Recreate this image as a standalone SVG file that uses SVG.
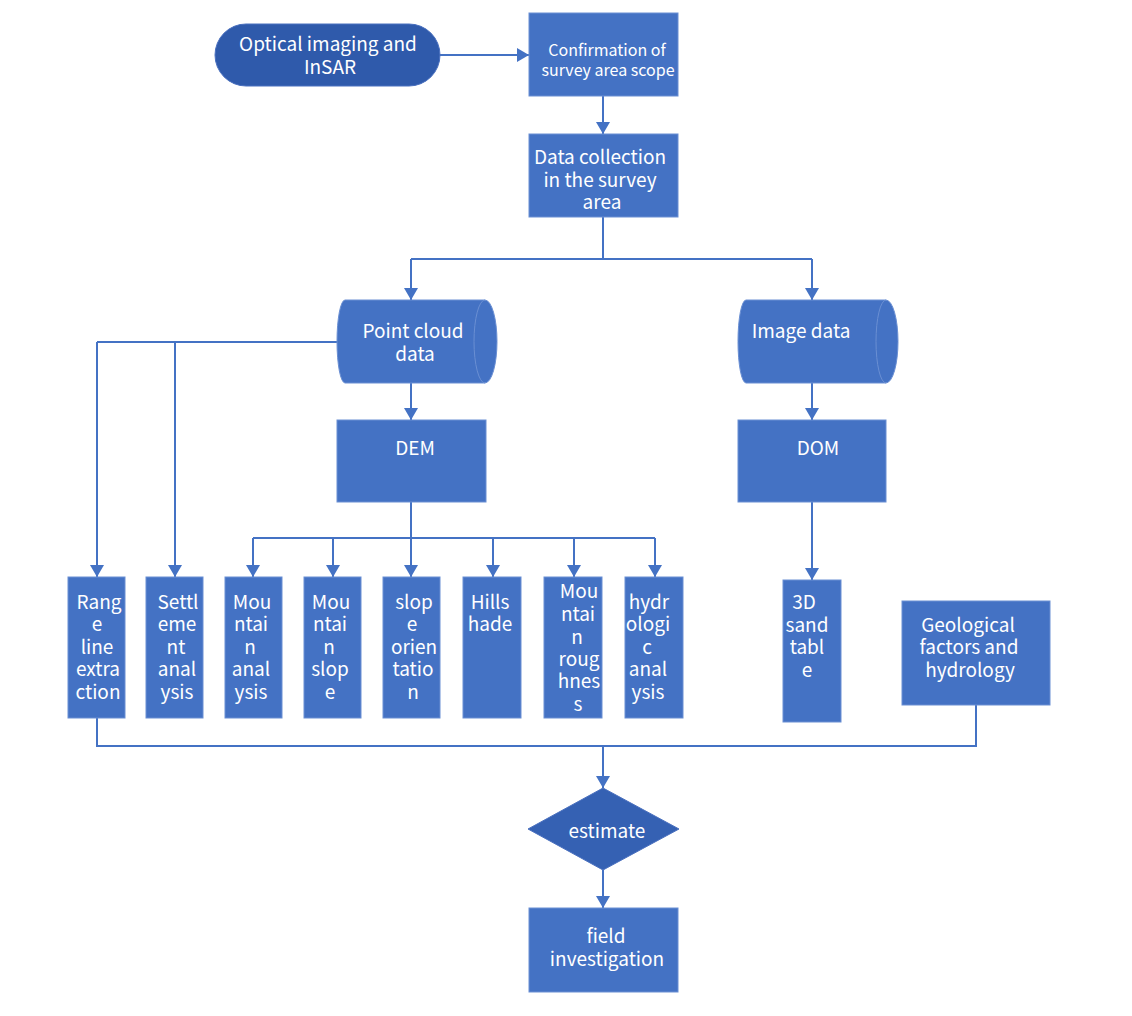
<svg xmlns="http://www.w3.org/2000/svg" width="1132" height="1016" viewBox="0 0 1132 1016">
<defs>
<marker id="arr" markerUnits="userSpaceOnUse" markerWidth="14" markerHeight="14" refX="12" refY="7" orient="auto" viewBox="0 0 12 14">
<path d="M0,0 L12,7 L0,14 Z" fill="#4472C4"/>
</marker>
</defs>
<style>
.box{fill:#4472C4;stroke:#6a8fd3;stroke-width:1}
.dark{fill:#2F5AAB;stroke:#4a70bf;stroke-width:1}
.t{font-family:"Noto Sans CJK SC","Noto Sans","Liberation Sans",sans-serif;font-size:19px;fill:#ffffff;text-anchor:middle}
.s{font-size:16px}
.ln{fill:none;stroke:#4472C4;stroke-width:2}
.a{marker-end:url(#arr)}
.cap{fill:none;stroke:#6a8fd3;stroke-width:1}
</style>
<rect width="1132" height="1016" fill="#ffffff"/>
<g id="connectors">
<path class="ln a" d="M440,55 H529"/>
<path class="ln a" d="M603,96 V134"/>
<path class="ln" d="M603,217 V259 M411,259 H812"/>
<path class="ln a" d="M411,259 V300"/>
<path class="ln a" d="M812,259 V300"/>
<path class="ln a" d="M411,383 V420"/>
<path class="ln a" d="M812,383 V420"/>
<path class="ln" d="M337,342 H97"/>
<path class="ln a" d="M97,342 V577"/>
<path class="ln a" d="M175,342 V577"/>
<path class="ln" d="M411,502 V538 M253,538 H655"/>
<path class="ln a" d="M253,538 V577"/>
<path class="ln a" d="M333,538 V577"/>
<path class="ln a" d="M411,538 V577"/>
<path class="ln a" d="M493,538 V577"/>
<path class="ln a" d="M574,538 V577"/>
<path class="ln a" d="M655,538 V577"/>
<path class="ln a" d="M812,502 V580"/>
<path class="ln" d="M97,718 V746 H976 V705"/>
<path class="ln a" d="M603,746 V788"/>
<path class="ln a" d="M603,870 V908"/>
</g>
<g id="n-optical">
<rect class="dark" x="215" y="24" width="225" height="62" rx="31"/>
<text class="t" x="328" y="51">Optical imaging and</text>
<text class="t" x="330" y="74">InSAR</text>
</g>
<g id="n-confirm">
<rect class="box" x="529" y="13" width="149" height="83"/>
<text class="t s" x="607" y="56">Confirmation of</text>
<text class="t s" x="608" y="76">survey area scope</text>
</g>
<g id="n-datacollection">
<rect class="box" x="529" y="134" width="149" height="83"/>
<text class="t" x="600" y="164">Data collection</text>
<text class="t" x="600" y="187">in the survey</text>
<text class="t" x="602" y="209">area</text>
</g>
<g id="n-pointcloud">
<path class="box" d="M345,300 H485 A12,41.5 0 0 1 485,383 H345 A8,41.5 0 0 1 345,300 Z"/>
<path class="cap" d="M485,300 A11,41.5 0 0 0 485,383"/>
<text class="t" x="413" y="338">Point cloud</text>
<text class="t" x="415" y="361">data</text>
</g>
<g id="n-imagedata">
<path class="box" d="M746,300 H886 A12,41.5 0 0 1 886,383 H746 A8,41.5 0 0 1 746,300 Z"/>
<path class="cap" d="M886,300 A10,41.5 0 0 0 886,383"/>
<text class="t" x="801" y="338">Image data</text>
</g>
<g id="n-dem">
<rect class="box" x="337" y="420" width="149" height="82"/>
<text class="t" x="415" y="455">DEM</text>
</g>
<g id="n-dom">
<rect class="box" x="738" y="420" width="148" height="82"/>
<text class="t" x="818" y="455">DOM</text>
</g>
<g id="n-range">
<rect class="box" x="68" y="577" width="57" height="141"/>
<text class="t"><tspan x="99" y="609">Rang</tspan><tspan x="97" y="631">e</tspan><tspan x="97" y="654">line</tspan><tspan x="98" y="676">extra</tspan><tspan x="98" y="699">ction</tspan></text>
</g>
<g id="n-settlement">
<rect class="box" x="146" y="577" width="57" height="141"/>
<text class="t"><tspan x="178" y="609">Settl</tspan><tspan x="177" y="631">eme</tspan><tspan x="176" y="654">nt</tspan><tspan x="177" y="676">anal</tspan><tspan x="177" y="699">ysis</tspan></text>
</g>
<g id="n-mountain-analysis">
<rect class="box" x="225" y="577" width="57" height="141"/>
<text class="t"><tspan x="252" y="609">Mou</tspan><tspan x="251" y="631">ntai</tspan><tspan x="250" y="654">n</tspan><tspan x="251" y="676">anal</tspan><tspan x="251" y="699">ysis</tspan></text>
</g>
<g id="n-mountain-slope">
<rect class="box" x="304" y="577" width="57" height="141"/>
<text class="t"><tspan x="331" y="609">Mou</tspan><tspan x="330" y="631">ntai</tspan><tspan x="329" y="654">n</tspan><tspan x="330" y="676">slop</tspan><tspan x="330" y="699">e</tspan></text>
</g>
<g id="n-slope-orientation">
<rect class="box" x="383" y="577" width="57" height="141"/>
<text class="t"><tspan x="414" y="609">slop</tspan><tspan x="412" y="631">e</tspan><tspan x="414" y="654">orien</tspan><tspan x="413" y="676">tatio</tspan><tspan x="413" y="699">n</tspan></text>
</g>
<g id="n-hillshade">
<rect class="box" x="463" y="577" width="58" height="141"/>
<text class="t"><tspan x="490" y="609">Hills</tspan><tspan x="490" y="631">hade</tspan></text>
</g>
<g id="n-mountain-roughness">
<rect class="box" x="544" y="577" width="58" height="141"/>
<text class="t"><tspan x="579" y="598">Mou</tspan><tspan x="578" y="621">ntai</tspan><tspan x="577" y="644">n</tspan><tspan x="579" y="666">roug</tspan><tspan x="579" y="688">hnes</tspan><tspan x="578" y="711">s</tspan></text>
</g>
<g id="n-hydrologic">
<rect class="box" x="625" y="577" width="58" height="141"/>
<text class="t"><tspan x="649" y="609">hydr</tspan><tspan x="648" y="631">ologi</tspan><tspan x="647" y="654">c</tspan><tspan x="648" y="676">anal</tspan><tspan x="648" y="699">ysis</tspan></text>
</g>
<g id="n-3d-sand-table">
<rect class="box" x="783" y="580" width="58" height="142"/>
<text class="t"><tspan x="804" y="609">3D</tspan><tspan x="807" y="632">sand</tspan><tspan x="807" y="654">tabl</tspan><tspan x="807" y="677">e</tspan></text>
</g>
<g id="n-geological">
<rect class="box" x="902" y="601" width="148" height="104"/>
<text class="t"><tspan x="968" y="632">Geological</tspan><tspan x="969" y="654">factors and</tspan><tspan x="970" y="677">hydrology</tspan></text>
</g>
<g id="n-estimate">
<polygon class="dark" points="603,788 679,829 603,870 528,829" style="fill:#3561B3"/>
<text class="t" x="607" y="838">estimate</text>
</g>
<g id="n-field">
<rect class="box" x="529" y="908" width="149" height="84"/>
<text class="t" x="606" y="943">field</text>
<text class="t" x="607" y="966">investigation</text>
</g>
</svg>
